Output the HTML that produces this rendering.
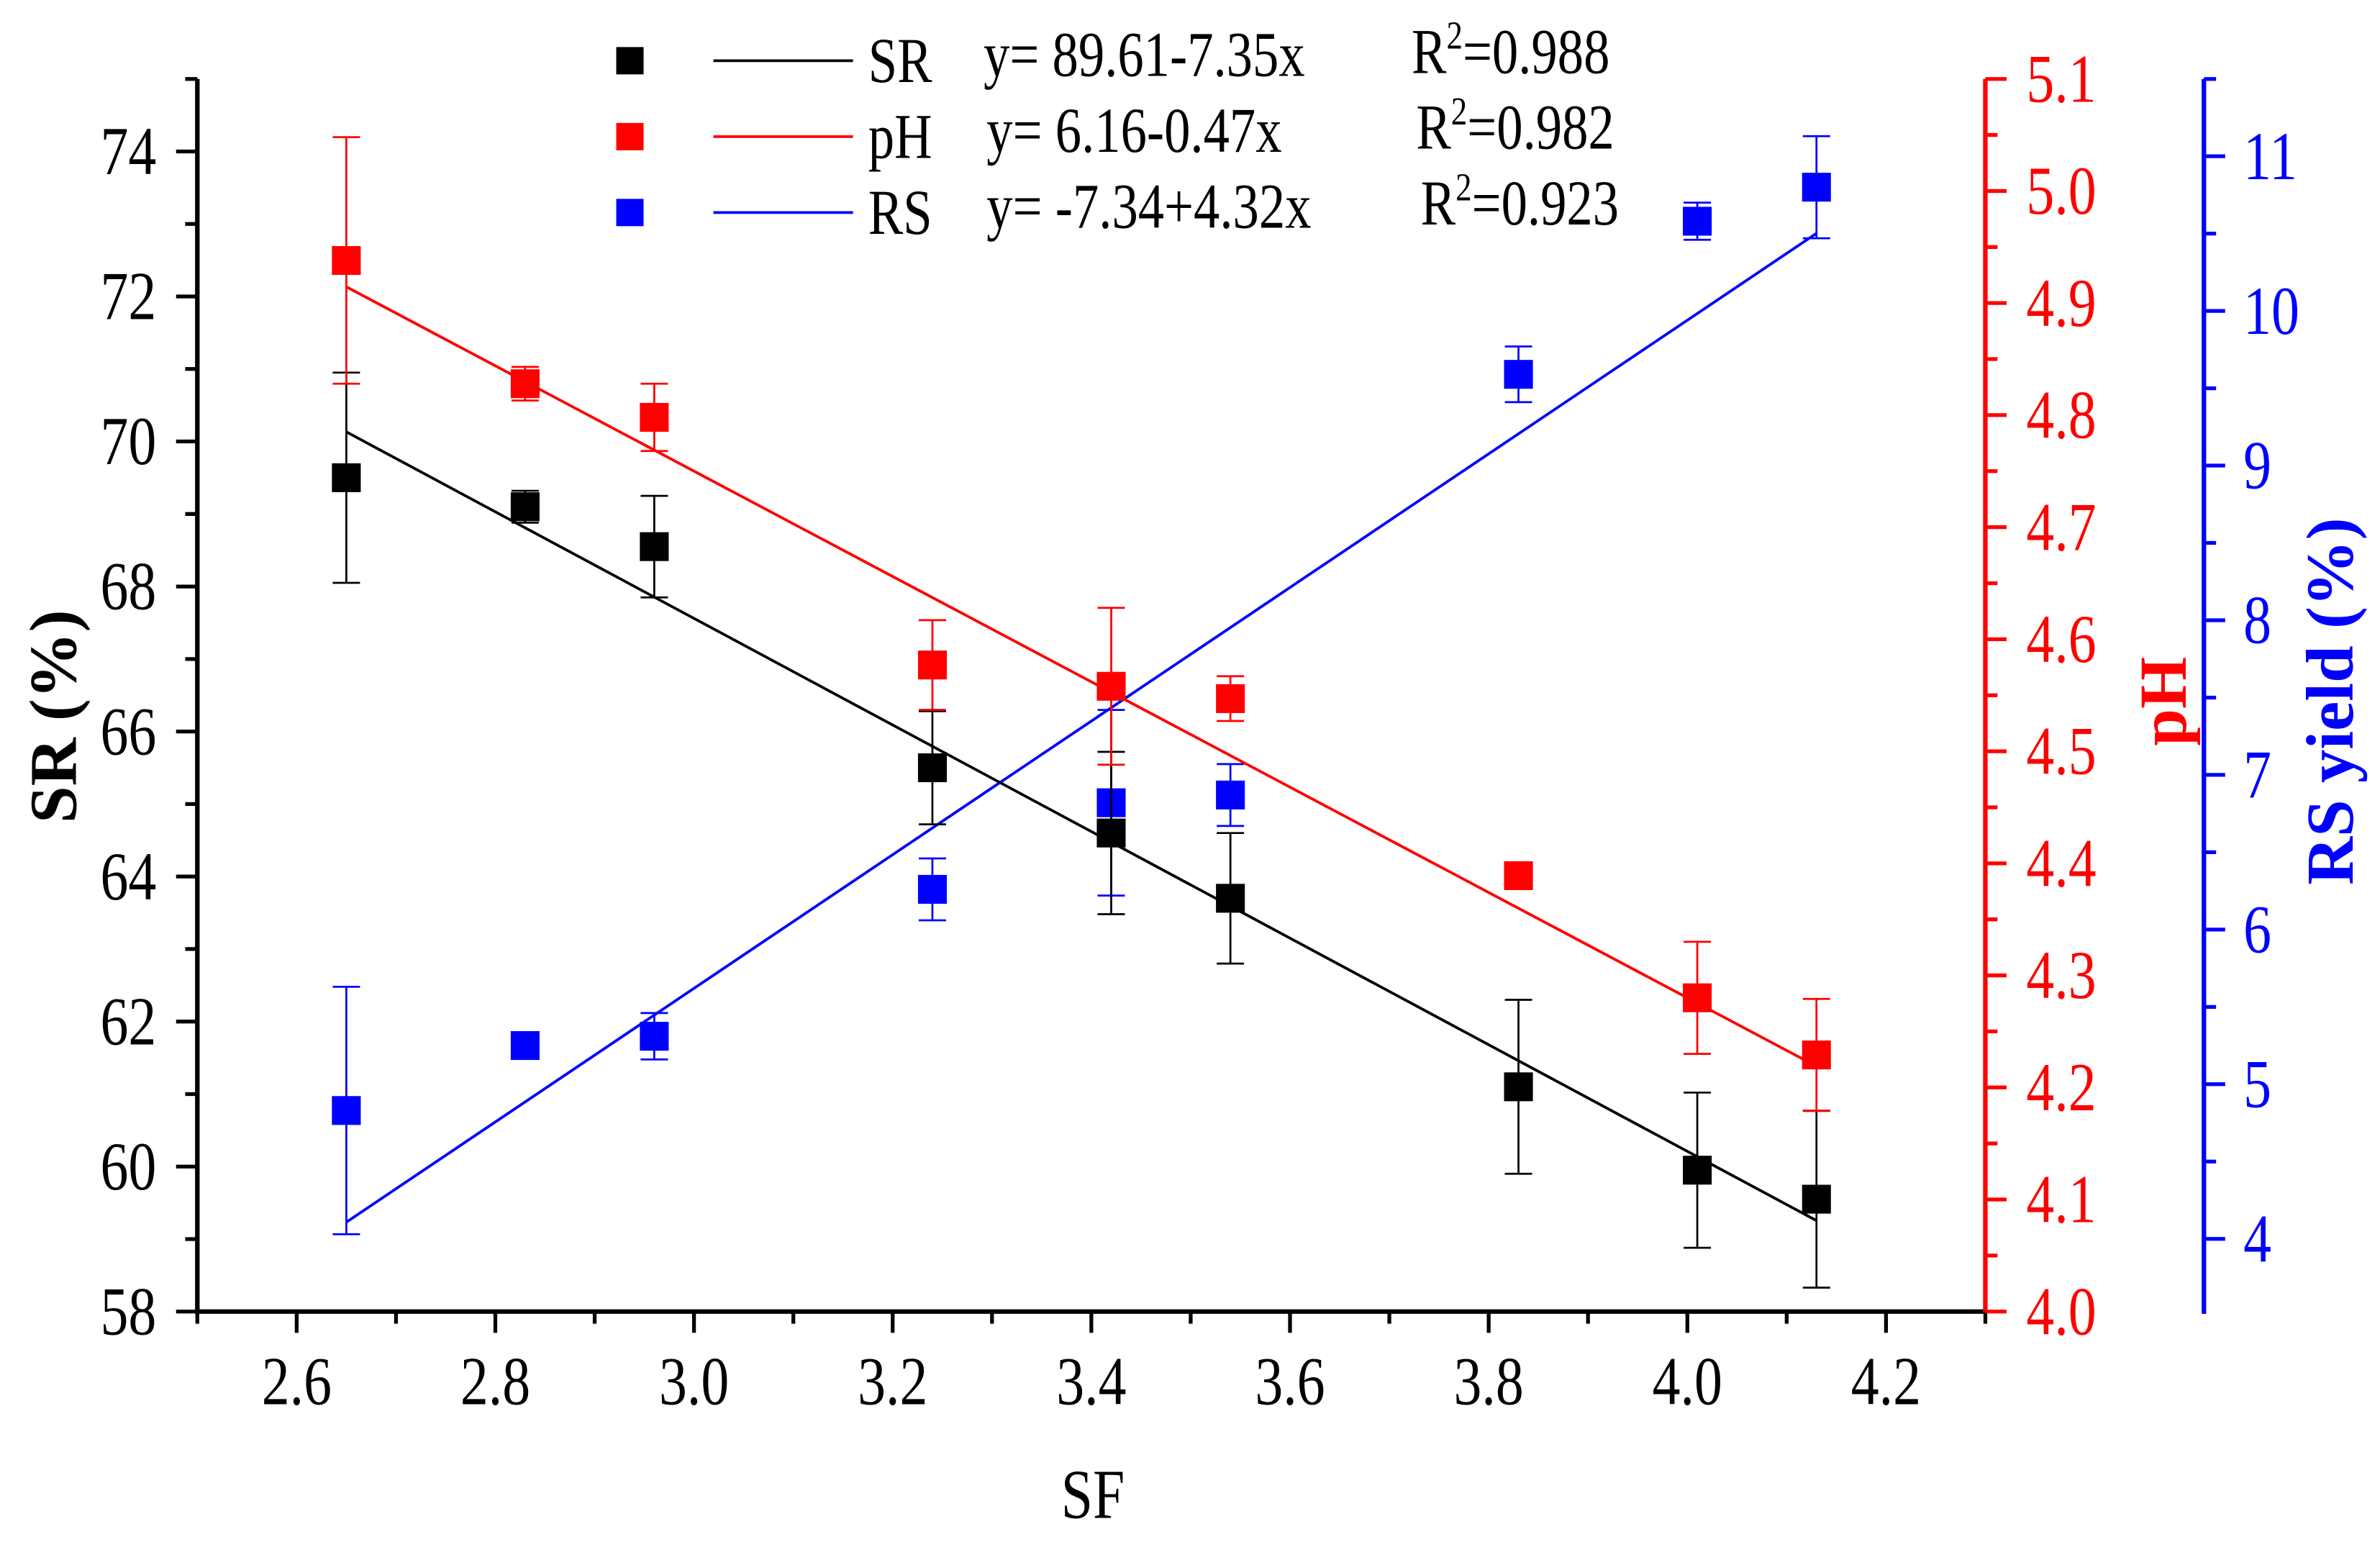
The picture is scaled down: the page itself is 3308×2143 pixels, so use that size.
<!DOCTYPE html>
<html><head><meta charset="utf-8"><style>
html,body{margin:0;padding:0;background:#fff}
svg{display:block}
text{font-family:"Liberation Serif",serif}
</style></head><body>
<svg id="chart" width="3308" height="2143" viewBox="0 0 1568 1015.8" xmlns="http://www.w3.org/2000/svg">
<g id="axes"></g>
<g id="marks"></g>
<g id="legend"></g>
</svg>
<script>
const sfValues=[2.65,2.83,2.96,3.24,3.42,3.54,3.83,4.01,4.13];
const srValues=[69.5,69.1,68.55,65.5,64.6,63.7,61.1,59.95,59.55];
const srErr=[1.45,0.22,0.7,0.78,1.12,0.9,1.2,1.07,1.22];
const phValues=[4.938,4.828,4.798,4.577,4.558,4.547,4.389,4.28,4.229];
const phErr=[0.11,0.015,0.03,0.04,0.07,0.02,0.008,0.05,0.05];
const rsValues=[4.83,5.25,5.31,6.26,6.82,6.87,9.59,10.58,10.8];
const rsErr=[0.8,0.05,0.15,0.2,0.6,0.2,0.18,0.12,0.33];
const xTicks=["2.6","2.8","3.0","3.2","3.4","3.6","3.8","4.0","4.2"];
const srTicks=["58","60","62","64","66","68","70","72","74"];
const phTicks=["4.0","4.1","4.2","4.3","4.4","4.5","4.6","4.7","4.8","4.9","5.0","5.1"];
const rsTicks=["4","5","6","7","8","9","10","11"];
const fitSR=[89.61,-7.35], fitPH=[6.16,-0.47], fitRS=[-7.34,4.32];

const L=130,R=1308,B=864,T=52,BX=1452;
const xS=v=>L+(v-2.5)/1.8*(R-L);
const ySR=v=>B-(v-58)/17*(B-T);
const yPH=v=>B-(v-4.0)/1.1*(B-T);
const yRS=v=>B-(v-3.53)/(11.5-3.53)*(B-T);
const NS="http://www.w3.org/2000/svg";
const SX=0.82;
function mk(p,tag,at,txt){const e=document.createElementNS(NS,tag);for(const k in at)e.setAttribute(k,at[k]);if(txt!==undefined)e.textContent=txt;p.appendChild(e);return e;}
function tx(p,x,y,size,anchor,fill,txt){return mk(p,'text',{x:0,y:0,'font-size':size,'text-anchor':anchor,fill:fill,transform:`translate(${x},${y}) scale(${SX},1)`},txt);}
const ax=document.getElementById('axes'),mg=document.getElementById('marks'),lg=document.getElementById('legend');

let e;
e=mk(ax,'line',{x1:L,y1:T,x2:L,y2:B+1.5,stroke:'#000','stroke-width':3});

e=mk(ax,'line',{x1:L-1.5,y1:B,x2:R,y2:B,stroke:'#000','stroke-width':3});

e=mk(ax,'line',{x1:R,y1:T,x2:R,y2:B+1.5,stroke:'#f00','stroke-width':3});

e=mk(ax,'line',{x1:BX,y1:T,x2:BX,y2:B+1.5,stroke:'#00f','stroke-width':3});


for(let v=2.5;v<=4.301;v+=0.1){const x=xS(v);const maj=Math.round(v*10)%2===0;mk(ax,'line',{x1:x,y1:B,x2:x,y2:B+(maj?14:8),stroke:'#000','stroke-width':2.5});}
xTicks.forEach(t=>{e=tx(ax,xS(+t),925,45,'middle','#000',t);
});
for(let v=58;v<=75;v+=1){const y=ySR(v);const maj=v%2===0;mk(ax,'line',{x1:L,y1:y,x2:L-(maj?14:8),y2:y,stroke:'#000','stroke-width':2.5});}
srTicks.forEach(t=>{e=tx(ax,103,ySR(+t)+15,45,'end','#000',t);
});
for(let i=0;i<=22;i++){const v=4+i*0.05;const y=yPH(v);mk(ax,'line',{x1:R,y1:y,x2:R+(i%2===0?14:8),y2:y,stroke:'#f00','stroke-width':2.5});}
phTicks.forEach(t=>{e=tx(ax,1335,yPH(+t)+15,45,'start','#f00',t);
});
for(let v=3.5;v<=11.51;v+=0.5){const y=yRS(v);if(y<T-1||y>B+1)continue;const maj=Math.abs(v-Math.round(v))<0.01;mk(ax,'line',{x1:BX,y1:y,x2:BX+(maj?14:8),y2:y,stroke:'#00f','stroke-width':2.5});}
rsTicks.forEach(t=>{e=tx(ax,1478,yRS(+t)+15,45,'start','#00f',t);
});

e=tx(ax,720,1000,46,'middle','#000','SF');

e=mk(ax,'text',{x:0,y:0,'font-size':44,'font-weight':'bold','text-anchor':'middle',transform:'translate(50,472) rotate(-90)'},'SR (%)');

e=mk(ax,'text',{x:0,y:0,'font-size':44,'font-weight':'bold',fill:'#f00','text-anchor':'middle',transform:'translate(1440,462) rotate(-90)'},'pH');

e=mk(ax,'text',{x:0,y:0,'font-size':44,'font-weight':'bold',fill:'#00f','text-anchor':'middle',transform:'translate(1550,462) rotate(-90)'},'RS yield (%)');


function series(name,vals,errs,yF,fit,col){
  const x1=sfValues[0],x2=sfValues[sfValues.length-1];
  e=mk(mg,'line',{x1:xS(x1),y1:yF(fit[0]+fit[1]*x1),x2:xS(x2),y2:yF(fit[0]+fit[1]*x2),stroke:col,'stroke-width':1.8});
  
  sfValues.forEach((s,i)=>{
    const x=xS(s),yt=yF(vals[i]+errs[i]),yb=yF(vals[i]-errs[i]);
    const g=mk(mg,'g',{});
    
    mk(g,'line',{x1:x,y1:yt,x2:x,y2:yb,stroke:col,'stroke-width':1.3});
    mk(g,'line',{x1:x-9,y1:yt,x2:x+9,y2:yt,stroke:col,'stroke-width':1.3});
    mk(g,'line',{x1:x-9,y1:yb,x2:x+9,y2:yb,stroke:col,'stroke-width':1.3});
    e=mk(mg,'rect',{x:x-9.5,y:yF(vals[i])-9.5,width:19,height:19,fill:col});
    
  });
}
series('rs',rsValues,rsErr,yRS,fitRS,'#00f');
series('sr',srValues,srErr,ySR,fitSR,'#000');
series('ph',phValues,phErr,yPH,fitPH,'#f00');

const legNames=['SR','pH','RS'],legCols=['#000','#f00','#00f'];
const legEq=['y= 89.61-7.35x','y= 6.16-0.47x','y= -7.34+4.32x'];
const legR=['0.988','0.982','0.923'];
const eqX=[648,650,650], rX=[930,933,936];
legNames.forEach((n,i)=>{
  const y=40+i*50;
  const g=mk(lg,'g',{});
  
  mk(g,'rect',{x:406,y:y-9,width:18,height:18,fill:legCols[i]});
  mk(g,'line',{x1:470,y1:y,x2:562,y2:y,stroke:legCols[i],'stroke-width':1.8});
  tx(g,572,y+14,42,'start','#000',n);
  tx(g,eqX[i],y+10,42,'start','#000',legEq[i]);
  const t=mk(g,'text',{x:0,y:0,'font-size':42,transform:`translate(${rX[i]},${y+8}) scale(${SX},1)`},'R');
  mk(t,'tspan',{dy:-16,'font-size':26},'2');
  mk(t,'tspan',{dy:16,'font-size':42},'='+legR[i]);
});
</script>
</body></html>
